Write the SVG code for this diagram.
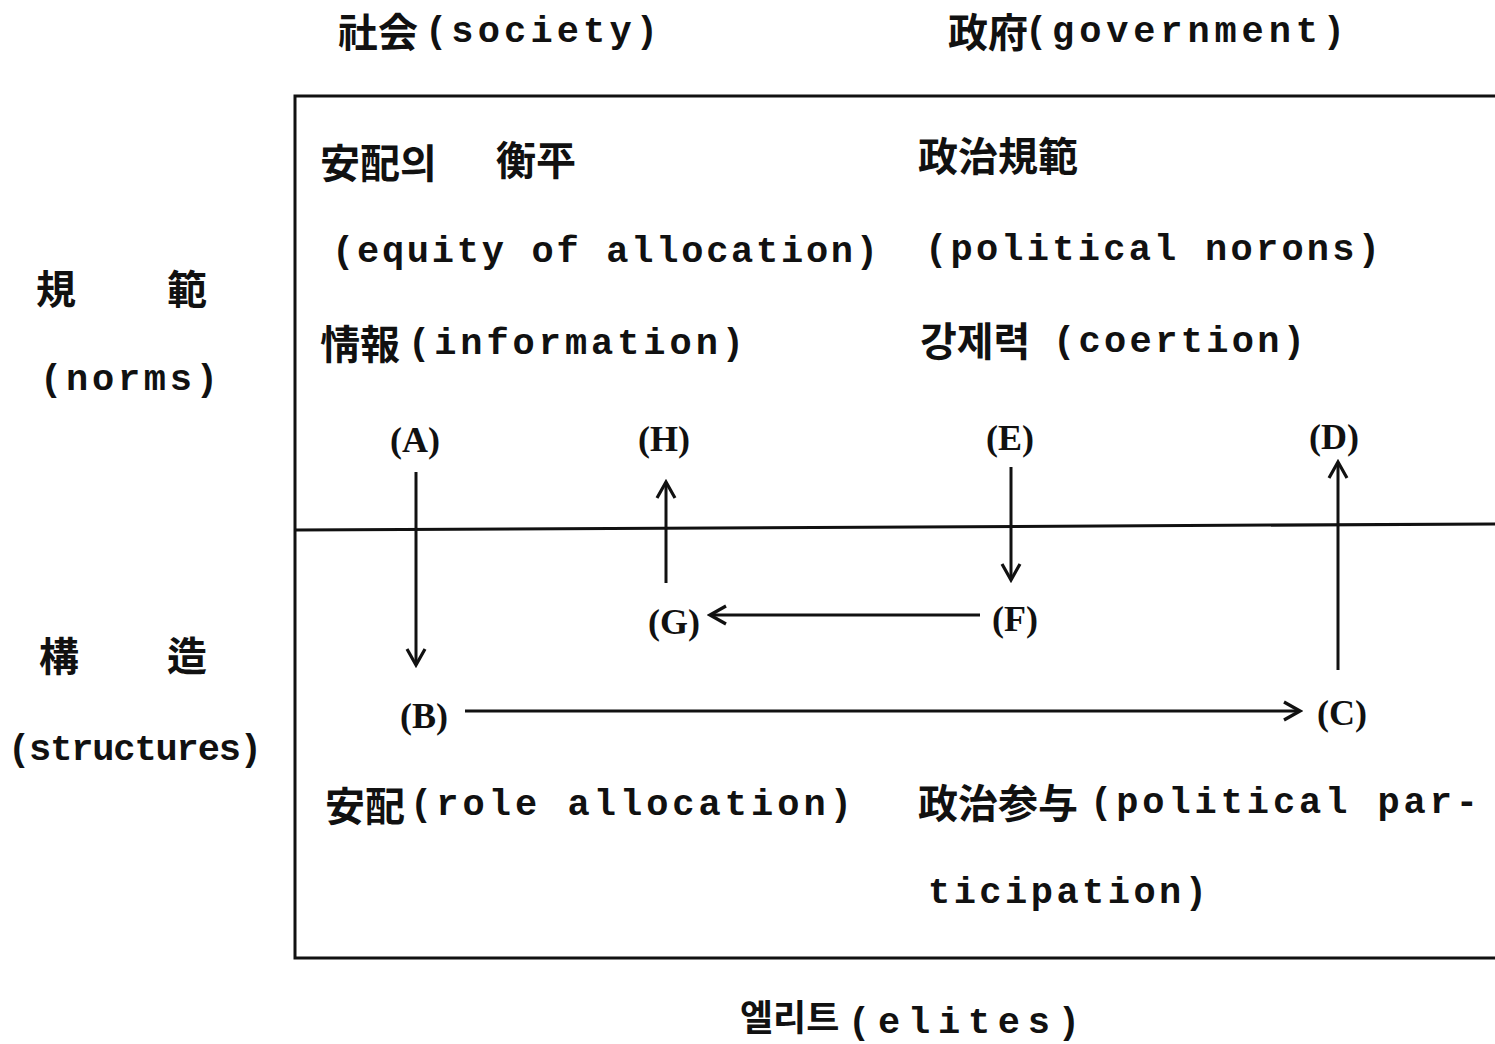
<svg xmlns="http://www.w3.org/2000/svg" width="1495" height="1044" viewBox="0 0 1495 1044">
<defs>
<style>
.m{font-family:"Liberation Mono","Noto Sans CJK KR",monospace;font-weight:bold;font-size:37px;fill:#111}
.c{font-family:"Noto Sans CJK KR","Noto Sans CJK SC",sans-serif;font-weight:bold;font-size:40px;fill:#111}
.l{font-family:"Liberation Serif",serif;font-weight:bold;font-size:36px;fill:#111}
.ln{stroke:#111;stroke-width:3;fill:none}
.ar{stroke:#111;stroke-width:3;fill:none}
</style>
<marker id="ah" viewBox="0 0 24 24" refX="21" refY="12" markerWidth="24" markerHeight="24" markerUnits="userSpaceOnUse" orient="auto">
<path d="M5,3 L21,12 L5,21" fill="none" stroke="#111" stroke-width="3.2"/>
</marker>
</defs>
<rect width="1495" height="1044" fill="#fff"/>
<g id="frame">
<path class="ln" d="M1495,96 L295,96 L295,958 L1495,958"/>
<path class="ln" d="M295,530 L1495,524"/>
</g>
<g id="headers">
<text class="c" x="338" y="47">社会</text><text class="m" x="425" y="42" textLength="233" lengthAdjust="spacing">(society)</text>
<text class="c" x="948" y="47">政府</text><text class="m" x="1025" y="42" textLength="320" lengthAdjust="spacing">(government)</text>
<text class="c" x="36" y="304">規</text><text class="c" x="167" y="304">範</text>
<text class="m" x="40" y="390" textLength="178" lengthAdjust="spacing">(norms)</text>
<text class="c" x="39" y="671">構</text><text class="c" x="167" y="671">造</text>
<text class="m" x="8" y="760" textLength="254" lengthAdjust="spacing">(structures)</text>
<text class="c" x="740" y="1031" style="font-size:36px">엘리트</text><text class="m" x="848" y="1033" textLength="232" lengthAdjust="spacing">(elites)</text>
</g>
<g id="norms-society">
<text class="c" x="320" y="178">安配의</text><text class="c" x="496" y="175">衡平</text>
<text class="m" x="332" y="262" textLength="546" lengthAdjust="spacing">(equity of allocation)</text>
<text class="c" x="320" y="359">情報</text><text class="m" x="408" y="354" textLength="336" lengthAdjust="spacing">(information)</text>
</g>
<g id="norms-government">
<text class="c" x="918" y="171">政治規範</text>
<text class="m" x="925" y="260" textLength="455" lengthAdjust="spacing">(political norons)</text>
<text class="c" x="920" y="356">강제력</text><text class="m" x="1053" y="352" textLength="252" lengthAdjust="spacing">(coertion)</text>
</g>
<g id="structures">
<text class="c" x="325" y="821">安配</text><text class="m" x="410" y="815" textLength="442" lengthAdjust="spacing">(role allocation)</text>
<text class="c" x="918" y="818">政治参与</text><text class="m" x="1090" y="813" textLength="388" lengthAdjust="spacing">(political par-</text>
<text class="m" x="928" y="903" textLength="279" lengthAdjust="spacing">ticipation)</text>
</g>
<g id="nodes">
<g id="A"><text class="l" x="415" y="452" text-anchor="middle">(A)</text></g>
<g id="H"><text class="l" x="664" y="451" text-anchor="middle">(H)</text></g>
<g id="E"><text class="l" x="1010" y="450" text-anchor="middle">(E)</text></g>
<g id="D"><text class="l" x="1334" y="449" text-anchor="middle">(D)</text></g>
<g id="G"><text class="l" x="674" y="634" text-anchor="middle">(G)</text></g>
<g id="F"><text class="l" x="1015" y="631" text-anchor="middle">(F)</text></g>
<g id="B"><text class="l" x="424" y="728" text-anchor="middle">(B)</text></g>
<g id="C"><text class="l" x="1342" y="725" text-anchor="middle">(C)</text></g>
</g>
<g id="connectors">
<line class="ar" x1="416" y1="472" x2="416" y2="665" marker-end="url(#ah)"/>
<line class="ar" x1="666" y1="583" x2="666" y2="482" marker-end="url(#ah)"/>
<line class="ar" x1="1011" y1="467" x2="1011" y2="580" marker-end="url(#ah)"/>
<line class="ar" x1="980" y1="615" x2="710" y2="615" marker-end="url(#ah)"/>
<line class="ar" x1="465" y1="711" x2="1300" y2="711" marker-end="url(#ah)"/>
<line class="ar" x1="1338" y1="670" x2="1338" y2="462" marker-end="url(#ah)"/>
</g>
</svg>
